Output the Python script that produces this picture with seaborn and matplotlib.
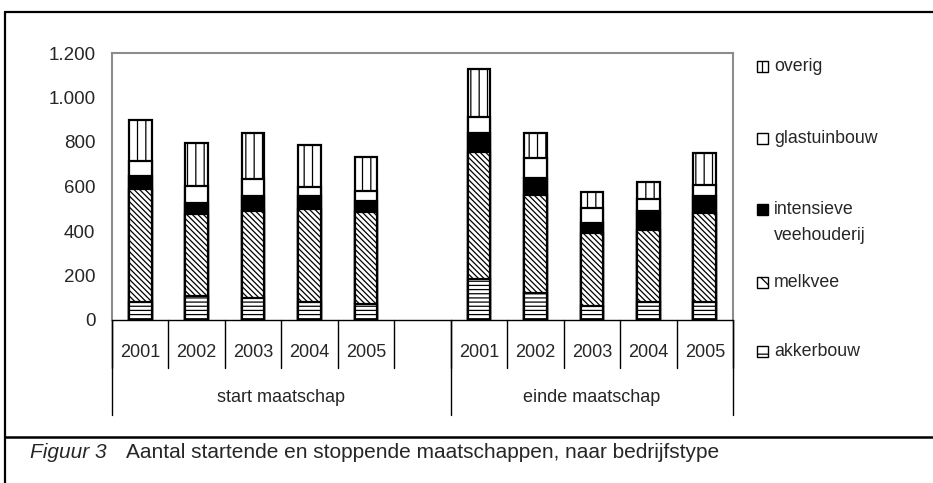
import numpy as np
import pandas as pd
import seaborn as sns
import matplotlib.pyplot as plt
from matplotlib.patches import Rectangle
from matplotlib.lines import Line2D

# values
groups = ["start maatschap", "einde maatschap"]
years = ["2001", "2002", "2003", "2004", "2005"]
akkerbouw = [82, 108, 100, 80, 72, 183, 120, 64, 80, 80]
melkvee = [505, 367, 391, 419, 412, 571, 442, 326, 324, 403]
intensief = [60, 49, 68, 60, 52, 85, 75, 47, 86, 76]
glastuinbouw = [69, 78, 75, 40, 42, 75, 90, 65, 54, 48]
overig = [183, 192, 205, 188, 153, 213, 112, 73, 75, 142]

layers = ["akkerbouw", "melkvee", "intensieve\nveehouderij", "glastuinbouw", "overig"]
hatches = ["----", "\\\\\\\\\\\\", "", "", "||"]
faces = ["white", "white", "black", "white", "white"]

sns.set_theme(style="white")
plt.rcParams["font.family"] = ["Liberation Sans", "DejaVu Sans"]
plt.rcParams["hatch.linewidth"] = 0.9

df = pd.DataFrame({
    "groep": np.repeat(groups, len(years)),
    "jaar": years * len(groups),
    layers[0]: akkerbouw,
    layers[1]: melkvee,
    layers[2]: intensief,
    layers[3]: glastuinbouw,
    layers[4]: overig,
})
df["slot"] = df["groep"] + " " + df["jaar"]
cum = df[layers].cumsum(axis=1)
order = list(df["slot"][:5]) + ["leeg"] + list(df["slot"][5:])

fig = plt.figure(figsize=(9.33, 4.83), dpi=100)
ax = fig.add_axes([112 / 933, 1 - 320 / 483, 621 / 933, 267 / 483])

# stacked bars: draw cumulative totals from the top layer down
for i in reversed(range(len(layers))):
    sns.barplot(x=df["slot"], y=cum[layers[i]], order=order, color=faces[i],
                saturation=1, hatch=hatches[i], edgecolor="black", linewidth=1.6,
                width=0.4, errorbar=None, ax=ax)

ax.set_xlim(-0.5, len(order) - 0.5)
ax.set_ylim(0, 1200)
ax.set_yticks(range(0, 1201, 200))
ax.set_yticklabels([f"{v:,}".replace(",", ".") for v in range(0, 1201, 200)], fontsize=13.5)
ax.tick_params(axis="y", length=0, pad=12)
ax.set_xticks([])
ax.set_xlabel("")
ax.set_ylabel("")
for s in ["top", "left", "right"]:
    ax.spines[s].set_color("#8c8c8c")
    ax.spines[s].set_linewidth(1.5)
ax.spines["bottom"].set_color("black")
ax.spines["bottom"].set_linewidth(1.0)

# multi-level category axis
tr = ax.get_xaxis_transform()
for b in np.arange(-0.5, len(order), 1.0):
    ax.plot([b, b], [0, -0.18], color="black", lw=1.0, transform=tr, clip_on=False)
for b in [-0.5, 5.5, len(order) - 0.5]:
    ax.plot([b, b], [0, -0.356], color="black", lw=1.0, transform=tr, clip_on=False)
for k, slot in enumerate(order):
    if slot in set(df["slot"]):
        ax.text(k, -0.12, slot.split()[-1], transform=tr, ha="center", va="center", fontsize=13)
ax.text(2.5, -0.29, groups[0], transform=tr, ha="center", va="center", fontsize=13)
ax.text(8.0, -0.29, groups[1], transform=tr, ha="center", va="center", fontsize=13)

# legend on the right
leg_y = [352, 283, 210, 139, 67]
for i, lab in enumerate(layers):
    y = 1 - leg_y[i] / 483
    fig.add_artist(Rectangle((757 / 933, y - 5 / 483), 11 / 933, 11 / 483,
                             transform=fig.transFigure, facecolor=faces[i],
                             edgecolor="black", hatch=hatches[i][:2], linewidth=1.0))
    fig.text(774 / 933, y + 9 / 483, lab, ha="left", va="top", fontsize=12.8, linespacing=1.7)

# frame and caption
fig.add_artist(Line2D([5 / 933, 1], [1 - 12 / 483] * 2, color="black", lw=1.6))
fig.add_artist(Line2D([5 / 933, 5 / 933], [0, 1 - 12 / 483], color="black", lw=1.6))
fig.add_artist(Line2D([5 / 933, 1], [1 - 437 / 483] * 2, color="black", lw=1.8))
fig.text(30 / 933, 1 - 452 / 483, "Figuur 3", style="italic", ha="left", va="center",
         fontsize=15)
fig.text(126 / 933, 1 - 452 / 483, "Aantal startende en stoppende maatschappen, naar bedrijfstype",
         ha="left", va="center", fontsize=15)

fig.savefig("out.png", dpi=100)
